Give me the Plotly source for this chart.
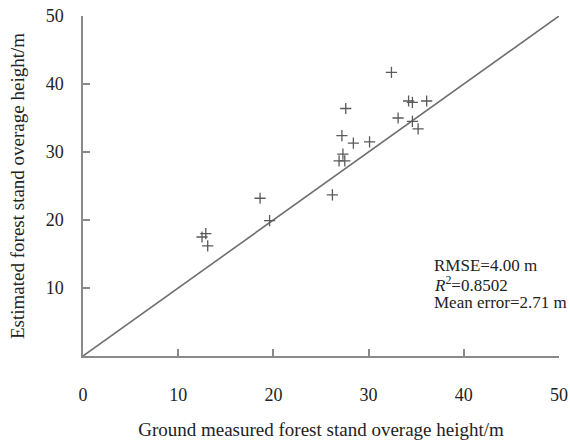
import plotly.graph_objects as go

# Ground-measured vs. estimated stand average height (m)
measured = [32.4, 27.6, 34.2, 34.6, 36.1, 33.1, 34.6, 35.2, 27.2, 28.4,
            30.1, 27.3, 26.9, 27.5, 26.2, 18.6, 19.6, 12.5, 12.9, 13.1]
estimated = [41.7, 36.4, 37.5, 37.3, 37.5, 35.0, 34.5, 33.4, 32.4, 31.3,
             31.5, 29.7, 28.7, 28.7, 23.7, 23.2, 19.9, 17.5, 18.0, 16.2]

# 1:1 reference line
ref_line = [0, 50]

x_ticks = [0, 10, 20, 30, 40, 50]
y_ticks = [10, 20, 30, 40, 50]

stats_lines = ["RMSE=4.00 m", "<i>R</i><sup>2</sup>=0.8502", "Mean error=2.71 m"]

font_family = "Liberation Serif, Times New Roman, serif"
axis_color = "#8a8a8a"
text_color = "#222222"

fig = go.Figure()
fig.add_trace(go.Scatter(
    x=ref_line, y=ref_line, mode="lines",
    line=dict(color="#6e6e6e", width=1.6),
    hoverinfo="skip", showlegend=False,
))
fig.add_trace(go.Scatter(
    x=measured, y=estimated, mode="markers",
    marker=dict(symbol="cross-thin", size=8,
                line=dict(color="#5a5a5a", width=1.3)),
    showlegend=False,
))

axis_common = dict(
    showline=True, linecolor=axis_color, linewidth=1.5,
    ticks="inside", ticklen=7, tickcolor=axis_color, tickwidth=1.5,
    showgrid=False, zeroline=False, range=[0, 50], automargin=False,
    tickfont=dict(family=font_family, size=18, color=text_color),
    title_font=dict(family=font_family, size=19, color=text_color),
)

fig.update_xaxes(
    **axis_common, tickvals=x_ticks, ticklabelstandoff=22,
    title_text="Ground measured forest stand overage height/m",
    title_standoff=18,
)
fig.update_yaxes(
    **axis_common, tickvals=y_ticks, ticklabelstandoff=14,
    title_text="Estimated forest stand overage height/m",
    title_standoff=16,
)

for i, line in enumerate(stats_lines):
    fig.add_annotation(
        x=36.7, y=13.3 - i * 2.7, xref="x", yref="y",
        text=line, showarrow=False, xanchor="left", yanchor="middle",
        font=dict(family=font_family, size=17, color=text_color),
    )

fig.update_layout(
    width=570, height=440,
    margin=dict(l=83, r=11, t=16, b=84),
    plot_bgcolor="white", paper_bgcolor="white",
)

fig.write_html("out.html")
